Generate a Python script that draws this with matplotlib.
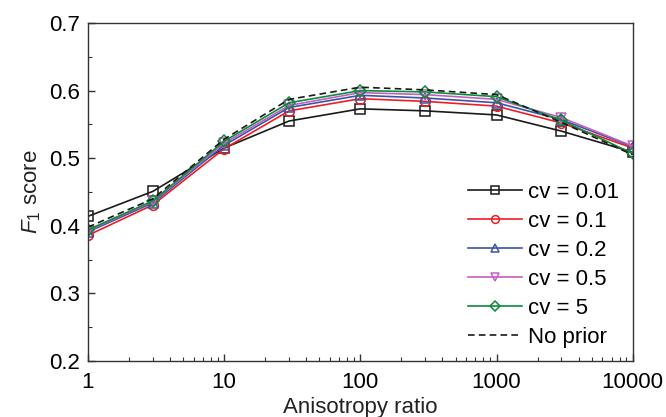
import matplotlib
matplotlib.use("Agg")
import matplotlib.pyplot as plt
from matplotlib.ticker import NullFormatter, MultipleLocator

plt.rcParams['font.family'] = ['Liberation Sans', 'DejaVu Sans']
plt.rcParams['mathtext.fontset'] = 'custom'
plt.rcParams['mathtext.rm'] = 'Liberation Sans'
plt.rcParams['mathtext.it'] = 'Liberation Sans:italic'

ratio = [1, 3, 10, 30, 100, 300, 1000, 3000, 10000]
cv001 = [0.414, 0.451, 0.515, 0.555, 0.573, 0.570, 0.564, 0.540, 0.509]
cv01 = [0.386, 0.431, 0.514, 0.570, 0.588, 0.584, 0.577, 0.552, 0.515]
cv02 = [0.391, 0.434, 0.519, 0.575, 0.593, 0.589, 0.582, 0.557, 0.517]
cv05 = [0.393, 0.436, 0.522, 0.578, 0.597, 0.594, 0.587, 0.560, 0.518]
cv5 = [0.394, 0.437, 0.525, 0.582, 0.600, 0.598, 0.591, 0.556, 0.507]
noprior = [0.398, 0.440, 0.528, 0.587, 0.605, 0.601, 0.594, 0.553, 0.505]

labels = ['cv = 0.01', 'cv = 0.1', 'cv = 0.2', 'cv = 0.5', 'cv = 5', 'No prior']
colors = ['#1a1a1a', '#ee1d24', '#3a55a5', '#c55fc0', '#0b8b3c', '#1a1a1a']
markers = ['s', 'o', '^', 'v', 'D', None]
msizes = [6.5, 7, 7, 7, 6, 0]

fig = plt.figure(figsize=(6.66, 4.17), dpi=100)
ax = fig.add_axes([0.132, 0.134, 0.818, 0.811])

series = [cv001, cv01, cv02, cv05, cv5]
for s, lab, c, m, ms in zip(series, labels[:5], colors[:5], markers[:5], msizes[:5]):
    ax.plot(ratio, s, color=c, marker=m, markersize=ms, markerfacecolor='none',
            markeredgecolor=c, markeredgewidth=1.1, linewidth=1.2, label=lab)
ax.plot(ratio, noprior, color=colors[5], linestyle=(0, (4, 2.5)), linewidth=1.2,
        label=labels[5])

ax.set_xscale('log')
ax.set_xlim(1, 10000)
ax.set_xticks([1, 10, 100, 1000, 10000])
ax.set_xticklabels(['1', '10', '100', '1000', '10000'])
ax.xaxis.set_minor_formatter(NullFormatter())
ax.yaxis.set_major_locator(MultipleLocator(0.1))
ax.yaxis.set_minor_locator(MultipleLocator(0.05))
ax.set_ylim(0.2, 0.7)
ax.yaxis.set_major_formatter(plt.FuncFormatter(lambda v, p: f'{v:.1f}'))

ax.tick_params(which='major', direction='in', length=5, width=1, labelsize=16, color='#333333')
ax.tick_params(axis='x', which='major', pad=8)
ax.tick_params(axis='y', which='major', pad=6)
ax.tick_params(which='minor', direction='in', length=3, width=0.8, color='#333333')
for sp in ax.spines.values():
    sp.set_color('#333333')
    sp.set_linewidth(1.0)

ax.set_xlabel('Anisotropy ratio', fontsize=16, labelpad=3, color='#222222')
ax.set_ylabel('$F_1$ score', fontsize=16, labelpad=4, color='#222222')

leg = ax.legend(loc='lower right', frameon=False, fontsize=16, handlelength=2.4,
                handletextpad=0.3, labelspacing=0.36, borderaxespad=0.2, markerscale=0.8)

fig.savefig('out.png', dpi=100)
